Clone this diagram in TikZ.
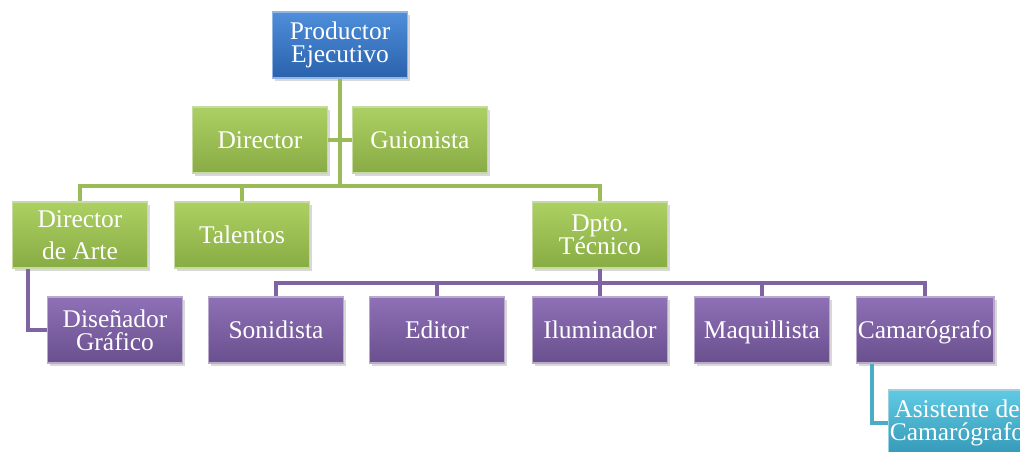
\documentclass[tikz,border=0pt]{standalone}
\usepackage{fontspec}
\setmainfont{Liberation Serif}
\usetikzlibrary{shadows}

\definecolor{pblue}{RGB}{58,120,200}
\definecolor{pgreen}{RGB}{155,187,89}
\definecolor{ppurple}{RGB}{128,100,162}
\definecolor{pcyan}{RGB}{75,172,198}
\definecolor{bluetop}{RGB}{78,142,218}
\definecolor{bluebot}{RGB}{42,98,172}
\definecolor{greentop}{RGB}{172,208,98}
\definecolor{greenbot}{RGB}{136,172,68}
\definecolor{purpletop}{RGB}{142,112,182}
\definecolor{purplebot}{RGB}{106,80,142}
\definecolor{cyantop}{RGB}{96,202,228}
\definecolor{cyanbot}{RGB}{52,152,182}

% fixed line spacing inside the boxes, accents or not
\newcommand{\boxfont}{\fontsize{14.5}{13}\selectfont\lineskiplimit=-20pt\relax}

\tikzset{
  box/.style={rectangle, minimum width=2.7cm, minimum height=1.32cm,
    inner sep=1pt, align=center, text=white, line width=.6pt,
    font=\boxfont,
    drop shadow={shadow xshift=1.5pt, shadow yshift=-1.5pt, opacity=.3}},
  oneline/.style={text height=9.6pt, text depth=0pt},
  bluebox/.style={box, top color=bluetop, bottom color=bluebot, draw=pblue!55!white},
  greenbox/.style={box, top color=greentop, bottom color=greenbot, draw=pgreen!55!white},
  purplebox/.style={box, top color=purpletop, bottom color=purplebot, draw=ppurple!55!white},
  cyanbox/.style={box, top color=cyantop, bottom color=cyanbot, draw=pcyan!55!white},
  gline/.style={draw=pgreen, line width=2.6pt},
  pline/.style={draw=ppurple, line width=2.6pt},
  cline/.style={draw=pcyan, line width=2.6pt},
}

\begin{document}
\begin{tikzpicture}
  \useasboundingbox[fill=white] (0,0) rectangle (20.4,9.04);
  % bus heights
  \coordinate (gbus) at (0,5.32);
  \coordinate (pbus) at (0,3.38);
  \coordinate (dgx) at (0.56,0);
  \coordinate (cax) at (17.44,0);

  \node[bluebox] (PE) at (6.8,8.14) {Productor\\Ejecutivo};
  \node[greenbox, oneline] (DI) at (5.2,6.24) {Director};
  \node[greenbox, oneline] (GU) at (8.4,6.24) {Guionista};
  \node[greenbox] (DA) at (1.6,4.34) {Director\\[5pt]de Arte};
  \node[greenbox, oneline] (TA) at (4.84,4.34) {Talentos};
  \node[greenbox] (DT) at (12.0,4.34) {Dpto.\\T\'ecnico};
  \node[purplebox] (DG) at (2.3,2.44) {Dise\~nador\\Gr\'afico};
  \node[purplebox, oneline] (SO) at (5.52,2.44) {Sonidista};
  \node[purplebox, oneline] (ED) at (8.74,2.44) {Editor};
  \node[purplebox, oneline] (IL) at (12.0,2.44) {Iluminador};
  \node[purplebox, oneline] (MA) at (15.24,2.44) {Maquillista};
  \node[purplebox, oneline] (CA) at (18.5,2.44) {Camar\'ografo};
  \node[cyanbox] (AC) at (19.14,0.58) {Asistente de\\Camar\'ografo};

  % green level
  \draw[gline] (PE.south) -- (PE.south |- gbus);
  \draw[gline] (DI.east) -- (GU.west);
  \draw[gline] (DA.north) |- (DT.north |- gbus) -- (DT.north);
  \draw[gline] (TA.north) -- (TA.north |- gbus);

  % purple level
  \draw[pline] (DT.south) -- (DT.south |- pbus);
  \draw[pline] (SO.north) |- (CA.north |- pbus) -- (CA.north);
  \foreach \n in {ED, IL, MA}
    \draw[pline] (\n.north) -- (\n.north |- pbus);
  \draw[pline] (dgx |- DA.south) |- (DG.west);

  \draw[cline] (cax |- CA.south) |- (AC.west);
\end{tikzpicture}
\end{document}
